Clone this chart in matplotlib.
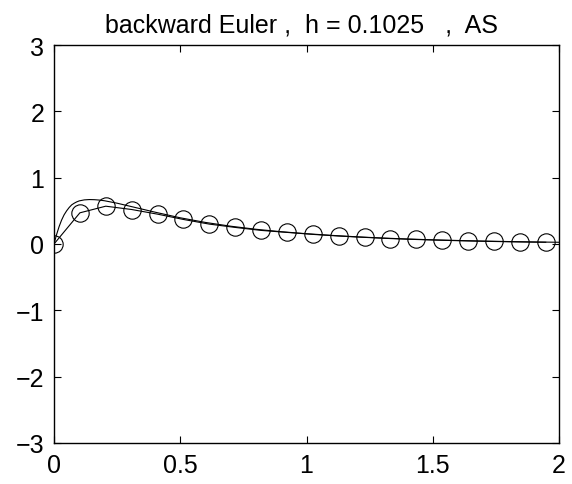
import matplotlib
matplotlib.use("Agg")
import matplotlib.pyplot as plt

# Numerical (backward Euler) solution, h = 0.1025
h = 0.1025
n_steps = list(range(20))
y_num = [0.0, 0.47, 0.57, 0.52, 0.45, 0.37, 0.30, 0.25, 0.205, 0.175,
         0.145, 0.12, 0.10, 0.082, 0.068, 0.056, 0.046, 0.038, 0.031, 0.026]

# Exact solution
t_exact = [0.0, 0.01, 0.02, 0.03, 0.04, 0.05, 0.06, 0.07, 0.08, 0.09, 0.10,
           0.12, 0.14, 0.16, 0.18, 0.20, 0.25, 0.30, 0.35, 0.40, 0.50, 0.60,
           0.70, 0.80, 0.90, 1.00, 1.10, 1.20, 1.30, 1.40, 1.50, 1.60, 1.70,
           1.80, 1.90, 2.00]
y_exact = [0.0, 0.14, 0.26, 0.36, 0.44, 0.50, 0.55, 0.59, 0.615, 0.635, 0.65,
           0.665, 0.67, 0.668, 0.662, 0.652, 0.615, 0.57, 0.525, 0.48, 0.395, 0.325,
           0.268, 0.222, 0.185, 0.155, 0.13, 0.108, 0.09, 0.075, 0.063, 0.053, 0.044,
           0.037, 0.031, 0.026]

x_ticks = [0, 0.5, 1, 1.5, 2]
x_labels = ["0", "0.5", "1", "1.5", "2"]
y_ticks = [-3, -2, -1, 0, 1, 2, 3]
y_labels = ["\u22123", "\u22122", "\u22121", "0", "1", "2", "3"]

plt.rcParams['font.family'] = ['Liberation Sans', 'DejaVu Sans']

fig = plt.figure(figsize=(5.72, 4.85), dpi=100)
ax = fig.add_axes([54/572, 41/485, 505/572, 398/485])

t_num = [k * h for k in n_steps]
ax.plot(t_exact, y_exact, color='black', lw=0.8)
ax.plot(t_num, y_num, color='black', lw=0.8, marker='o', markersize=12.5,
        markerfacecolor='none', markeredgewidth=0.8)

ax.set_xlim(0, 2)
ax.set_ylim(-3, 3)
ax.set_xticks(x_ticks)
ax.set_xticklabels(x_labels)
ax.set_yticks(y_ticks)
ax.set_yticklabels(y_labels)
ax.tick_params(direction='in', length=5, width=0.8, top=True, right=True,
               labelsize=18, pad=7)
for s in ax.spines.values():
    s.set_linewidth(1.0)
ax.set_title("backward Euler ,  h = 0.1025   ,  AS", fontsize=18, pad=10,
             x=0.49)

fig.savefig("out.png", dpi=100)
